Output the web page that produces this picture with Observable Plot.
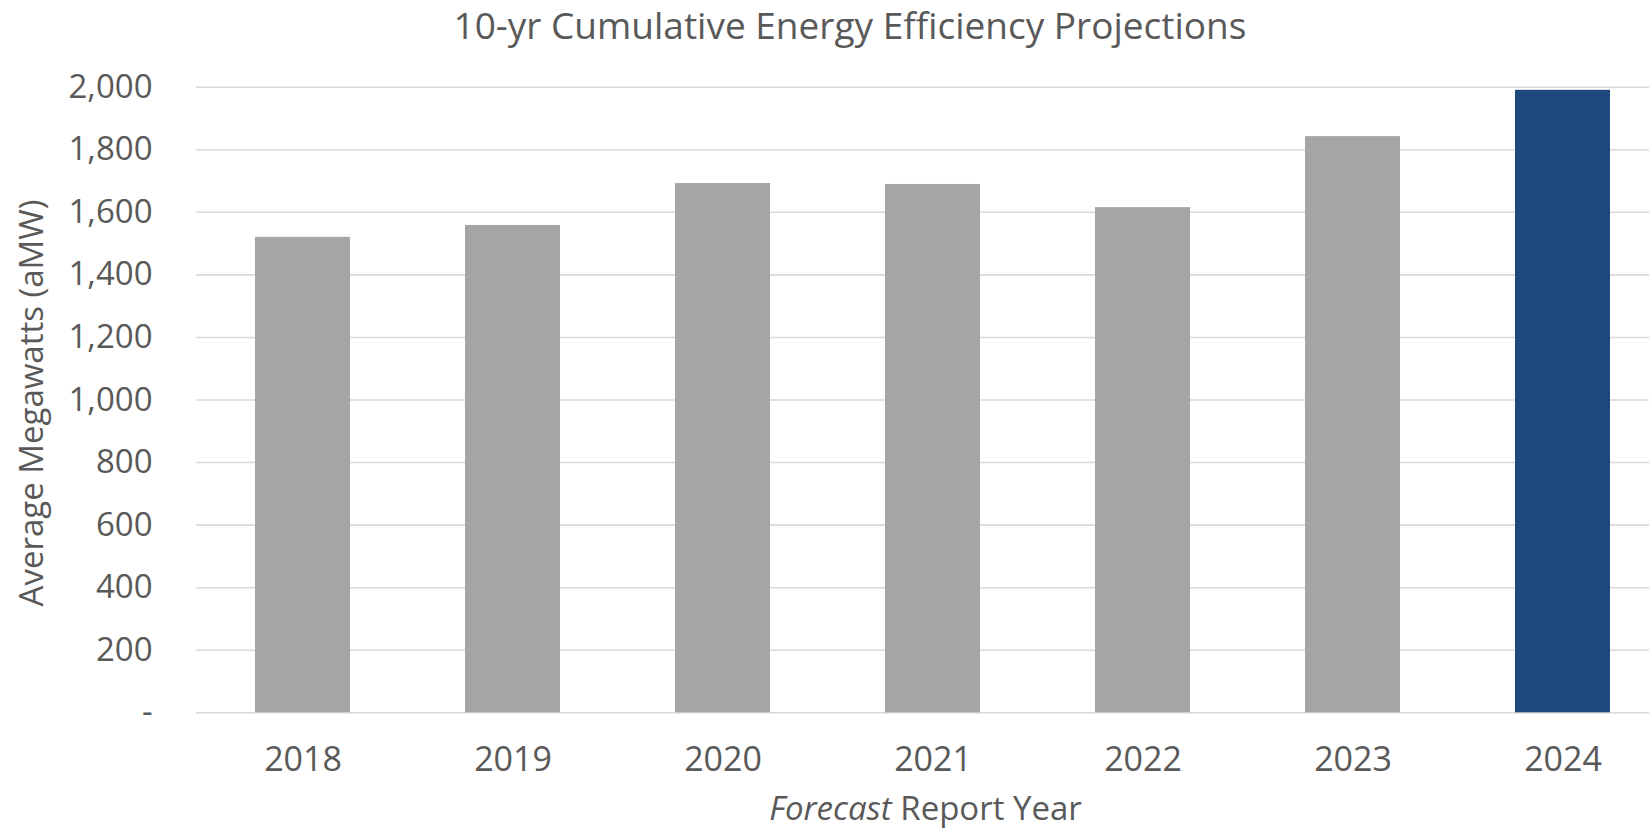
<!DOCTYPE html>
<html>
<head>
<meta charset="utf-8">
<script src="https://cdn.jsdelivr.net/npm/d3@7"></script>
<script src="https://cdn.jsdelivr.net/npm/@observablehq/plot@0.6"></script>
<style>
  html, body { margin: 0; padding: 0; background: #fff; overflow: hidden; }
  body { font-family: "Open Sans", sans-serif; color: #595959; width: 1649px; }
  #title { box-sizing: border-box; width: 1649px; height: 50px; line-height: 50px; padding-left: 51px; text-align: center; font-size: 37px; white-space: nowrap; }
  #xlabel { box-sizing: border-box; width: 1649px; height: 46px; line-height: 46px; padding-left: 202px; text-align: center; font-size: 33px; white-space: nowrap; }
  #chart svg { display: block; }
</style>
</head>
<body>
<div id="title">10-yr Cumulative Energy Efficiency Projections</div>
<div id="chart"></div>
<div id="xlabel"><i>Forecast</i> Report Year</div>
<script>
const years = ["2018", "2019", "2020", "2021", "2022", "2023", "2024"];
const values = [1520, 1558, 1692, 1689, 1615, 1842, 1990];
const highlightYear = "2024";
const yTicks = [0, 200, 400, 600, 800, 1000, 1200, 1400, 1600, 1800, 2000];
const yTickLabels = ["-", "200", "400", "600", "800", "1,000", "1,200", "1,400", "1,600", "1,800", "2,000"];
const yLabel = "Average Megawatts (aMW)";

const data = years.map((y, i) => ({year: y, value: values[i]}));
const ticks = yTicks.map((v, i) => ({v, label: yTickLabels[i]}));

const chart = Plot.plot({
  width: 1649,
  height: 735,
  marginLeft: 196,
  marginRight: 0,
  marginTop: 36.7,
  marginBottom: 72.7,
  style: {fontFamily: "Open Sans, sans-serif", color: "#595959", background: "#fff"},
  x: {type: "band", domain: years, range: [196, 1668], paddingInner: 0.548, paddingOuter: 0.274, axis: null},
  y: {domain: [0, 2000], axis: null},
  marks: [
    Plot.ruleY(yTicks, {y: d => d, stroke: "#D9D9D9", strokeWidth: 1.6}),
    Plot.barY(data, {x: "year", y: "value", fill: d => d.year === highlightYear ? "#1F497D" : "#A5A5A5"}),
    Plot.text(ticks, {y: "v", text: "label", frameAnchor: "left", dx: -44, textAnchor: "end", fontSize: 33, fill: "#595959"}),
    Plot.text(years, {x: d => d, y: () => 0, text: d => d, dy: 47, lineAnchor: "middle", fontSize: 34, fill: "#595959"}),
    Plot.text([yLabel], {y: () => 1000, text: d => d, frameAnchor: "left", dx: -164, dy: 3, rotate: -90, fontSize: 33, fill: "#595959", textAnchor: "middle", lineAnchor: "middle"})
  ]
});
document.getElementById("chart").appendChild(chart);
</script>
</body>
</html>
